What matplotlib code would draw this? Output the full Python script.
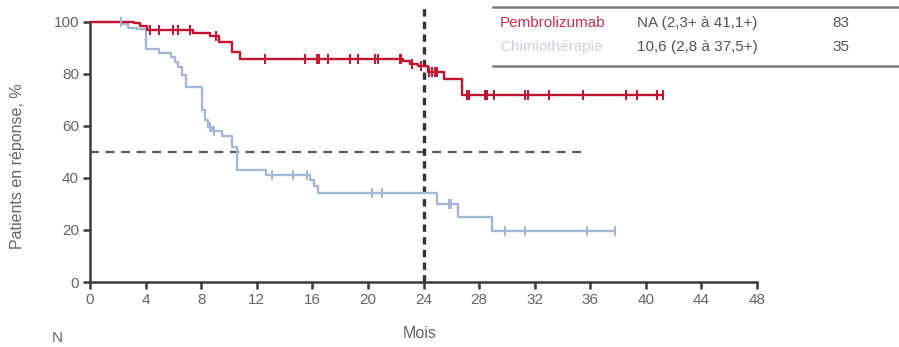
"""Kaplan-Meier: durée de la réponse, pembrolizumab vs chimiothérapie"""
import numpy as np
import matplotlib
matplotlib.use('Agg')
import matplotlib.pyplot as plt

plt.rcParams['font.family'] = ['Liberation Sans', 'DejaVu Sans']

# Pembrolizumab: step times (mois) and % in response
pembro_t = [0, 3.2, 3.6, 4.1, 7.4, 8.6, 9.3, 10.2, 10.8, 22.5, 23.0, 23.6, 24.3, 25.5, 26.8]
pembro_s = [100, 99.3, 98.5, 96.8, 95.8, 94.5, 92.3, 88.3, 85.7, 84.8, 83.8, 82.8, 80.8, 78.0, 71.8]
pembro_end = 41.2
pembro_cens = [4.3, 5.0, 6.0, 6.3, 7.2, 9.1, 12.6, 15.5, 16.3, 16.5, 17.1, 18.7, 19.3,
               20.5, 20.7, 22.3, 22.4, 23.2, 23.8, 24.4, 24.6, 24.8, 25.0, 27.1, 27.3,
               28.4, 28.6, 29.1, 31.3, 31.5, 33.0, 35.5, 38.6, 39.4, 40.8, 41.2]

# Chimiothérapie
chemo_t = [0, 2.4, 2.7, 3.4, 4.0, 5.0, 5.8, 6.1, 6.3, 6.6, 6.9, 8.08, 8.27, 8.5, 8.75,
           9.5, 10.2, 10.6, 12.7, 15.8, 16.1, 16.4, 25.0, 26.5, 28.9]
chemo_s = [100, 99.0, 97.7, 97.0, 89.6, 88.0, 86.5, 84.6, 82.7, 79.6, 74.8, 66.0, 62.3,
           59.7, 58.0, 55.9, 52.0, 43.0, 41.0, 39.0, 37.0, 34.3, 30.0, 25.0, 19.6]
chemo_end = 37.8
chemo_cens = [2.2, 8.6, 8.95, 13.1, 14.6, 15.6, 20.3, 21.0, 25.8, 26.0, 29.9, 31.3, 35.8, 37.8]

xticks = list(range(0, 49, 4))
yticks = [0, 20, 40, 60, 80, 100]

table_rows = [('Pembrolizumab', 'NA (2,3+ à 41,1+)', '83'),
              ('Chimiothérapie', '10,6 (2,8 à 37,5+)', '35')]

RED = '#c4122f'
BLUE = '#a5b7d6'
GREY = '#5a5a5a'


def km_curve(ax, t, s, end, cens, color):
    tt = list(t) + [end]
    ss = list(s) + [s[-1]]
    ax.step(tt, ss, where='post', color=color, lw=1.7, zorder=3)
    idx = np.searchsorted(np.array(t), np.array(cens), side='right') - 1
    ax.plot(cens, np.array(s)[idx], ls='none', marker='|', ms=7, mew=1.4,
            color=color, zorder=4)


fig = plt.figure(figsize=(8.99, 3.47), dpi=100)
ax = fig.add_axes([90 / 899, 65 / 347, 667 / 899, 276 / 347])

km_curve(ax, chemo_t, chemo_s, chemo_end, chemo_cens, BLUE)
km_curve(ax, pembro_t, pembro_s, pembro_end, pembro_cens, RED)

ax.plot([0, 35.6], [50, 50], ls=(0, (4, 3)), color=GREY, lw=1.6, zorder=2)
ax.plot([24, 24], [0, 105.5], ls=(0, (2.2, 1.6)), color='#333333', lw=2.4, zorder=2)

ax.set_xlim(0, 48)
ax.set_ylim(0, 106)
ax.set_xticks(xticks)
ax.set_yticks(yticks)
for side in ['top', 'right']:
    ax.spines[side].set_visible(False)
for side in ['left', 'bottom']:
    ax.spines[side].set_color('#3a3a3a')
    ax.spines[side].set_linewidth(1.8)
ax.spines['left'].set_bounds(0, 100)
ax.tick_params(direction='out', length=5, width=1.8, color='#3a3a3a',
               labelcolor='#666666', labelsize=11, pad=3)

fig.text(420 / 899, 1 - 334 / 347, 'Mois', ha='center', va='center', fontsize=11.5, color='#666666')
fig.text(57 / 899, 1 - 338 / 347, 'N', ha='center', va='center', fontsize=11, color='#666666')
fig.text(18 / 899, 1 - 166 / 347, 'Patients en réponse, %', ha='center', va='center',
         rotation=90, fontsize=11.5, color='#666666')

# table at upper right
fig.add_artist(plt.Line2D([493 / 899, 1], [1 - 7 / 347] * 2, color='#7a7a7a', lw=1.8))
fig.add_artist(plt.Line2D([493 / 899, 1], [1 - 66 / 347] * 2, color='#7a7a7a', lw=1.8))
row_y = [23, 47]
name_colors = ['#c8314d', '#c9d2e4']
for (name, med, n), y, c in zip(table_rows, row_y, name_colors):
    fy = 1 - y / 347
    fig.text(500 / 899, fy, name, ha='left', va='center', fontsize=11, color=c)
    fig.text(637 / 899, fy, med, ha='left', va='center', fontsize=11, color='#555555')
    fig.text(832 / 899, fy, n, ha='left', va='center', fontsize=11, color='#555555')

fig.savefig('out.png', dpi=100)
